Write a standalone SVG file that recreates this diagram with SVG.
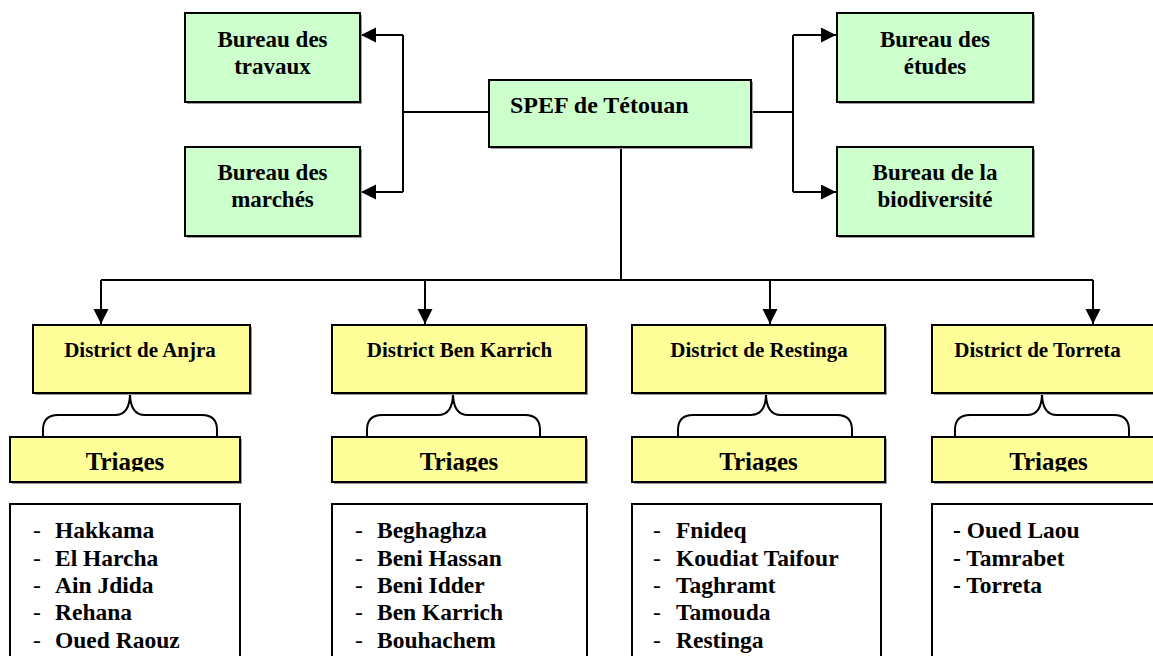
<svg xmlns="http://www.w3.org/2000/svg" width="1153" height="656" viewBox="0 0 1153 656">
<style>
  text { font-family: "Liberation Serif", "Times New Roman", serif; font-weight: bold; fill: #000; }
  .box { stroke: #000; stroke-width: 2; }
  .shadow { fill: #9a9a9a; }
  .green { fill: #CCFFCC; }
  .yellow { fill: #FFFF99; }
  .white { fill: #FFFFFF; }
  .bureau { font-size: 23px; text-anchor: middle; }
  .spef { font-size: 24px; }
  .district { font-size: 21px; text-anchor: middle; }
  .triages { font-size: 25px; text-anchor: middle; }
  .list { font-size: 23.5px; }
  .dash { font-weight: normal; }
  .conn { fill: none; stroke: #000; stroke-width: 2; }
</style>
<defs>
  <marker id="arr" markerUnits="userSpaceOnUse" markerWidth="16" markerHeight="16" refX="15" refY="7.5" orient="auto">
    <path d="M0,0 L15,7.5 L0,15 z" fill="#000"/>
  </marker>
  <clipPath id="triclip"><rect x="0" y="437" width="1153" height="34.5"/></clipPath>
</defs>
<rect width="1153" height="656" fill="#fff"/>

<g id="connectors">
  <path class="conn" d="M489,112 L403,112"/>
  <path class="conn" d="M403,35 L403,192"/>
  <path class="conn" d="M403,35 L361,35" marker-end="url(#arr)"/>
  <path class="conn" d="M403,192 L361,192" marker-end="url(#arr)"/>
  <path class="conn" d="M751,112 L793,112"/>
  <path class="conn" d="M793,35 L793,192"/>
  <path class="conn" d="M793,35 L836,35" marker-end="url(#arr)"/>
  <path class="conn" d="M793,192 L836,192" marker-end="url(#arr)"/>
  <path class="conn" d="M621,147 L621,280"/>
  <path class="conn" d="M101,280 L1093,280"/>
  <path class="conn" d="M101,280 L101,324" marker-end="url(#arr)"/>
  <path class="conn" d="M425,280 L425,324" marker-end="url(#arr)"/>
  <path class="conn" d="M770,280 L770,324" marker-end="url(#arr)"/>
  <path class="conn" d="M1093,280 L1093,324" marker-end="url(#arr)"/>
  <path class="conn" d="M130,393 Q130,415 115,415 L58,415 Q43,415 43,430 L43,437 M130,393 Q130,415 145,415 L202,415 Q217,415 217,430 L217,437"/>
  <path class="conn" d="M453,393 Q453,415 438,415 L382,415 Q367,415 367,430 L367,437 M453,393 Q453,415 468,415 L525,415 Q540,415 540,430 L540,437"/>
  <path class="conn" d="M766,393 Q766,415 751,415 L693,415 Q678,415 678,430 L678,437 M766,393 Q766,415 781,415 L837,415 Q852,415 852,430 L852,437"/>
  <path class="conn" d="M1042,393 Q1042,415 1027,415 L970,415 Q955,415 955,430 L955,437 M1042,393 Q1042,415 1057,415 L1114,415 Q1129,415 1129,430 L1129,437"/>
</g>

<g id="spef">
  <rect class="shadow" x="491" y="82" width="262" height="67"/>
  <rect class="box green" x="489" y="80" width="262" height="67"/>
  <text class="spef" x="510" y="113">SPEF de Tétouan</text>
</g>
<g id="bureau-travaux">
  <rect class="shadow" x="187" y="15" width="175" height="89"/>
  <rect class="box green" x="185" y="13" width="175" height="89"/>
  <text class="bureau" x="272.5" y="46.5">Bureau des</text>
  <text class="bureau" x="272.5" y="73.5">travaux</text>
</g>
<g id="bureau-marches">
  <rect class="shadow" x="187" y="149" width="175" height="89"/>
  <rect class="box green" x="185" y="147" width="175" height="89"/>
  <text class="bureau" x="272.5" y="180">Bureau des</text>
  <text class="bureau" x="272.5" y="207">marchés</text>
</g>
<g id="bureau-etudes">
  <rect class="shadow" x="839" y="15" width="196" height="89"/>
  <rect class="box green" x="837" y="13" width="196" height="89"/>
  <text class="bureau" x="935" y="46.5">Bureau des</text>
  <text class="bureau" x="935" y="73.5">études</text>
</g>
<g id="bureau-biodiversite">
  <rect class="shadow" x="839" y="149" width="196" height="89"/>
  <rect class="box green" x="837" y="147" width="196" height="89"/>
  <text class="bureau" x="935" y="180">Bureau de la</text>
  <text class="bureau" x="935" y="207">biodiversité</text>
</g>

<g id="district-anjra">
  <rect class="shadow" x="35" y="327" width="217" height="68"/>
  <rect class="box yellow" x="33" y="325" width="217" height="68"/>
  <text class="district" x="140" y="357">District de Anjra</text>
</g>
<g id="district-benkarrich">
  <rect class="shadow" x="334" y="327" width="254" height="68"/>
  <rect class="box yellow" x="332" y="325" width="254" height="68"/>
  <text class="district" x="459.5" y="357">District Ben Karrich</text>
</g>
<g id="district-restinga">
  <rect class="shadow" x="634" y="327" width="253" height="68"/>
  <rect class="box yellow" x="632" y="325" width="253" height="68"/>
  <text class="district" x="759" y="357">District de Restinga</text>
</g>
<g id="district-torreta">
  <rect class="shadow" x="934" y="327" width="254" height="68"/>
  <rect class="box yellow" x="932" y="325" width="254" height="68"/>
  <text class="district" x="1037.5" y="357">District de Torreta</text>
</g>

<g id="triages-anjra">
  <rect class="shadow" x="12" y="439" width="230" height="45"/>
  <rect class="box yellow" x="10" y="437" width="230" height="45"/>
  <text class="triages" x="125" y="470" clip-path="url(#triclip)">Triages</text>
</g>
<g id="triages-benkarrich">
  <rect class="shadow" x="334" y="439" width="254" height="45"/>
  <rect class="box yellow" x="332" y="437" width="254" height="45"/>
  <text class="triages" x="459" y="470" clip-path="url(#triclip)">Triages</text>
</g>
<g id="triages-restinga">
  <rect class="shadow" x="634" y="439" width="253" height="45"/>
  <rect class="box yellow" x="632" y="437" width="253" height="45"/>
  <text class="triages" x="758.5" y="470" clip-path="url(#triclip)">Triages</text>
</g>
<g id="triages-torreta">
  <rect class="shadow" x="934" y="439" width="254" height="45"/>
  <rect class="box yellow" x="932" y="437" width="254" height="45"/>
  <text class="triages" x="1048.5" y="470" clip-path="url(#triclip)">Triages</text>
</g>

<g id="list-anjra">
  <rect class="box white" x="10" y="504" width="230" height="160"/>
  <text class="list" x="33" y="538"><tspan class="dash">-</tspan><tspan x="55">Hakkama</tspan></text>
  <text class="list" x="33" y="565.5"><tspan class="dash">-</tspan><tspan x="55">El Harcha</tspan></text>
  <text class="list" x="33" y="593"><tspan class="dash">-</tspan><tspan x="55">Ain Jdida</tspan></text>
  <text class="list" x="33" y="620"><tspan class="dash">-</tspan><tspan x="55">Rehana</tspan></text>
  <text class="list" x="33" y="647.5"><tspan class="dash">-</tspan><tspan x="55">Oued Raouz</tspan></text>
</g>
<g id="list-benkarrich">
  <rect class="box white" x="332" y="504" width="255" height="160"/>
  <text class="list" x="355" y="538"><tspan class="dash">-</tspan><tspan x="377">Beghaghza</tspan></text>
  <text class="list" x="355" y="565.5"><tspan class="dash">-</tspan><tspan x="377">Beni Hassan</tspan></text>
  <text class="list" x="355" y="593"><tspan class="dash">-</tspan><tspan x="377">Beni Idder</tspan></text>
  <text class="list" x="355" y="620"><tspan class="dash">-</tspan><tspan x="377">Ben Karrich</tspan></text>
  <text class="list" x="355" y="647.5"><tspan class="dash">-</tspan><tspan x="377">Bouhachem</tspan></text>
</g>
<g id="list-restinga">
  <rect class="box white" x="632" y="504" width="249" height="160"/>
  <text class="list" x="653" y="538"><tspan class="dash">-</tspan><tspan x="676">Fnideq</tspan></text>
  <text class="list" x="653" y="565.5"><tspan class="dash">-</tspan><tspan x="676">Koudiat Taifour</tspan></text>
  <text class="list" x="653" y="593"><tspan class="dash">-</tspan><tspan x="676">Taghramt</tspan></text>
  <text class="list" x="653" y="620"><tspan class="dash">-</tspan><tspan x="676">Tamouda</tspan></text>
  <text class="list" x="653" y="647.5"><tspan class="dash">-</tspan><tspan x="676">Restinga</tspan></text>
</g>
<g id="list-torreta">
  <rect class="box white" x="932" y="504" width="254" height="160"/>
  <text class="list" x="953" y="538">- Oued Laou</text>
  <text class="list" x="953" y="565.5">- Tamrabet</text>
  <text class="list" x="953" y="593">- Torreta</text>
</g>
</svg>
